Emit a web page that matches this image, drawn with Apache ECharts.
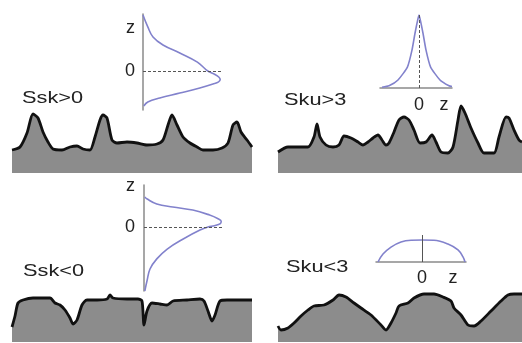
<!DOCTYPE html>
<html>
<head>
<meta charset="utf-8">
<script src="https://cdn.jsdelivr.net/npm/echarts@6/dist/echarts.min.js"></script>
<style>
  html, body { margin: 0; padding: 0; background: #fff; }
  #chart { width: 522px; height: 343px; }
</style>
</head>
<body>
<div id="chart"></div>
<script>
// Surface profiles: [distance along profile, surface height]
const profileSskPos = [
  [0,23],[8,26],[15,40],[21,59],[26,55],[31,41],[36,31],[41,24],[50,23],[58,26],
  [65,27],[71,24],[78,23],[83,36],[88,53],[91,58],[95,55],[100,33],[105,30],[115,31],
  [125,30],[135,28],[145,29],[151,33],[156,48],[160,58],[165,48],[171,36],[178,30],
  [185,26],[191,23],[201,23],[210,25],[216,30],[221,48],[225,51],[229,41],[235,33],[240,26]
];
const profileSkuHigh = [
  [0,21],[10,26],[30,26],[36,36],[39,49],[42,36],[48,28],[55,26],[61,28],[66,37],
  [73,35],[80,31],[85,28],[90,31],[95,35],[100,38],[104,33],[108,28],[111,30],[116,41],
  [121,53],[126,56],[131,53],[136,43],[142,30],[148,31],[154,38],[158,31],[163,21],
  [170,20],[175,26],[180,53],[183,67],[187,60],[193,45],[200,30],[206,20],[216,20],
  [221,36],[228,56],[231,55],[236,43],[241,33],[244,31]
];
const profileSskNeg = [
  [0,15],[3,26],[6,39],[11,42],[21,44],[38,44],[43,39],[48,37],[53,32],[58,24],
  [61,18],[65,22],[70,37],[75,42],[85,42],[95,43],[98,47],[101,44],[115,43],[126,43],
  [130,41],[132,17],[135,31],[140,39],[148,38],[155,37],[161,41],[175,42],[188,43],
  [192,41],[196,31],[200,21],[203,27],[208,41],[215,42],[240,42]
];
const profileSkuLow = [
  [0,16],[3,12],[10,14],[16,19],[23,26],[30,32],[36,36],[46,37],[55,42],[61,47],
  [68,45],[76,39],[83,34],[93,27],[103,17],[108,12],[113,19],[118,29],[121,36],[130,39],
  [136,44],[146,48],[156,48],[165,45],[173,41],[176,34],[183,27],[190,17],[196,16],
  [203,21],[213,31],[223,41],[230,47],[236,48],[244,48]
];

// Height distributions. Ssk curves: [density, z]; Sku curves: [z, density]
const distSskPos = [
  [0.00,2.95],[0.06,2.32],[0.125,1.79],[0.25,1.37],[0.46,0.95],[0.68,0.47],[0.81,0],
  [0.9,-0.18],[0.95,-0.33],[0.965,-0.45],[0.945,-0.57],[0.875,-0.68],[0.71,-0.89],
  [0.46,-1.16],[0.21,-1.42],[0.06,-1.63],[0.01,-1.84]
];
const distSskNeg = [
  [0.01,1.58],[0.04,1.47],[0.16,1.21],[0.36,1.05],[0.61,0.89],[0.82,0.63],[0.92,0.45],
  [0.965,0.3],[0.955,0.18],[0.88,0.07],[0.8,0],[0.7,-0.16],[0.49,-0.63],[0.29,-1.16],
  [0.16,-1.68],[0.075,-2.21],[0.04,-2.79],[0.01,-3.37]
];
const distSkuHigh = [
  [-3.7,0.01],[-3.0,0.03],[-2.1,0.11],[-1.15,0.29],[-0.7,0.52],[-0.4,0.75],[-0.15,0.92],
  [0,1.0],[0.15,0.92],[0.4,0.75],[0.7,0.52],[1.15,0.29],[2.1,0.11],[3.0,0.03],[3.3,0.02]
];
const distSkuLow = [
  [-4.4,0],[-3.9,0.36],[-3.1,0.68],[-2.1,0.91],[-1.1,0.99],[0,1.0],[1.2,0.99],
  [2.6,0.82],[3.6,0.55],[4.1,0.23],[4.3,0]
];

// Panel captions and axis tick labels
const panelLabels = ['Ssk>0', 'Sku>3', 'Ssk<0', 'Sku<3'];
const tickLabels = ['0', 'z'];
// where the "z" label sits on each distribution's z axis
const zLabelAt = [2.25, 2.5, 2.15, 3.1];

const surfaceFill = '#8c8c8c';
const surfaceLine = '#111111';
const curveColor = '#8282cc';
const axisColor = '#8a8a8a';
const textColor = '#222222';
const font = '"Liberation Sans", Arial, Helvetica, sans-serif';

const chart = echarts.init(document.getElementById('chart'), null, { renderer: 'canvas' });

const grids = [
  { left: 12,  top: 100, width: 240, height: 73 },   // Ssk>0 surface
  { left: 278, top: 100, width: 244, height: 73 },   // Sku>3 surface
  { left: 12,  top: 270, width: 240, height: 72 },   // Ssk<0 surface
  { left: 278, top: 270, width: 244, height: 72 },   // Sku<3 surface
  { left: 143, top: 14,  width: 80,  height: 96 },   // Ssk>0 distribution
  { left: 380, top: 15,  width: 72,  height: 73 },   // Sku>3 distribution
  { left: 144, top: 185, width: 80,  height: 106 },  // Ssk<0 distribution
  { left: 376, top: 235, width: 90,  height: 27 }    // Sku<3 distribution
];

const hidden = { show: false };
function tickLabelFormatter(v) { return v === 0 ? tickLabels[0] : tickLabels[1]; }
const axisLabelBase = {
  show: true, fontSize: 18, color: textColor, fontFamily: font,
  formatter: tickLabelFormatter
};

const xAxes = [
  { type: 'value', gridIndex: 0, min: 0, max: 240, show: false },
  { type: 'value', gridIndex: 1, min: 0, max: 244, show: false },
  { type: 'value', gridIndex: 2, min: 0, max: 240, show: false },
  { type: 'value', gridIndex: 3, min: 0, max: 244, show: false },
  { type: 'value', gridIndex: 4, min: 0, max: 1, show: false },
  { type: 'value', gridIndex: 5, min: -3.9, max: 3.3,
    axisLine: { show: true, onZero: false, lineStyle: { color: axisColor, width: 1.5 } },
    axisTick: hidden, splitLine: hidden,
    axisLabel: Object.assign({}, axisLabelBase, { margin: 8, customValues: [0, zLabelAt[1]] }) },
  { type: 'value', gridIndex: 6, min: 0, max: 1, show: false },
  { type: 'value', gridIndex: 7, min: -4.6, max: 4.4,
    axisLine: { show: true, onZero: false, lineStyle: { color: axisColor, width: 1.5 } },
    axisTick: hidden, splitLine: hidden,
    axisLabel: Object.assign({}, axisLabelBase, { margin: 7, customValues: [0, zLabelAt[3]] }) }
];

const yAxes = [
  { type: 'value', gridIndex: 0, min: 0, max: 73, show: false },
  { type: 'value', gridIndex: 1, min: 0, max: 73, show: false },
  { type: 'value', gridIndex: 2, min: 0, max: 72, show: false },
  { type: 'value', gridIndex: 3, min: 0, max: 72, show: false },
  { type: 'value', gridIndex: 4, min: -2.05, max: 3.0,
    axisLine: { show: true, onZero: false, lineStyle: { color: axisColor, width: 1.5 } },
    axisTick: hidden, splitLine: hidden,
    axisLabel: Object.assign({}, axisLabelBase, { margin: 8, customValues: [0, zLabelAt[0]] }) },
  { type: 'value', gridIndex: 5, min: 0, max: 1, show: false },
  { type: 'value', gridIndex: 6, min: -3.37, max: 2.21,
    axisLine: { show: true, onZero: false, lineStyle: { color: axisColor, width: 1.5 } },
    axisTick: hidden, splitLine: hidden,
    axisLabel: Object.assign({}, axisLabelBase, { margin: 9, customValues: [0, zLabelAt[2]] }) },
  { type: 'value', gridIndex: 7, min: 0, max: 1.23, show: false }
];

function surfaceSeries(idx, data) {
  return {
    type: 'line', xAxisIndex: idx, yAxisIndex: idx, data: data,
    showSymbol: false, smooth: 0.25, silent: true, z: 2,
    lineStyle: { color: surfaceLine, width: 2.8 },
    areaStyle: { color: surfaceFill, opacity: 1, origin: 'start' }
  };
}

function zeroLine(axisKey, dashed) {
  return {
    silent: true, symbol: ['none', 'none'], label: { show: false },
    lineStyle: { color: '#555', width: 1, type: dashed ? [3, 2] : 'solid' },
    data: [{ [axisKey]: 0 }]
  };
}

function distSeries(idx, data, smooth, mark) {
  return {
    type: 'line', xAxisIndex: idx, yAxisIndex: idx, data: data,
    showSymbol: false, smooth: smooth, silent: true, z: 3,
    lineStyle: { color: curveColor, width: 1.6 },
    markLine: mark
  };
}

const series = [
  surfaceSeries(0, profileSskPos),
  surfaceSeries(1, profileSkuHigh),
  surfaceSeries(2, profileSskNeg),
  surfaceSeries(3, profileSkuLow),
  distSeries(4, distSskPos, 0.4, zeroLine('yAxis', true)),
  distSeries(5, distSkuHigh, 0.2, zeroLine('xAxis', true)),
  distSeries(6, distSskNeg, 0.4, zeroLine('yAxis', true)),
  distSeries(7, distSkuLow, 0.4, zeroLine('xAxis', false))
];

// Panel captions
const captionPos = [[22, 98], [284, 100], [23, 271], [286, 267]];
const graphic = panelLabels.map((t, i) => ({
  type: 'text', x: captionPos[i][0], y: captionPos[i][1], scaleX: 1.28, silent: true,
  style: { text: t, fill: textColor, font: '17px ' + font, align: 'left', verticalAlign: 'middle' }
}));

chart.setOption({
  backgroundColor: '#ffffff',
  animation: false,
  grid: grids,
  xAxis: xAxes,
  yAxis: yAxes,
  series: series,
  graphic: graphic
});
</script>
</body>
</html>
